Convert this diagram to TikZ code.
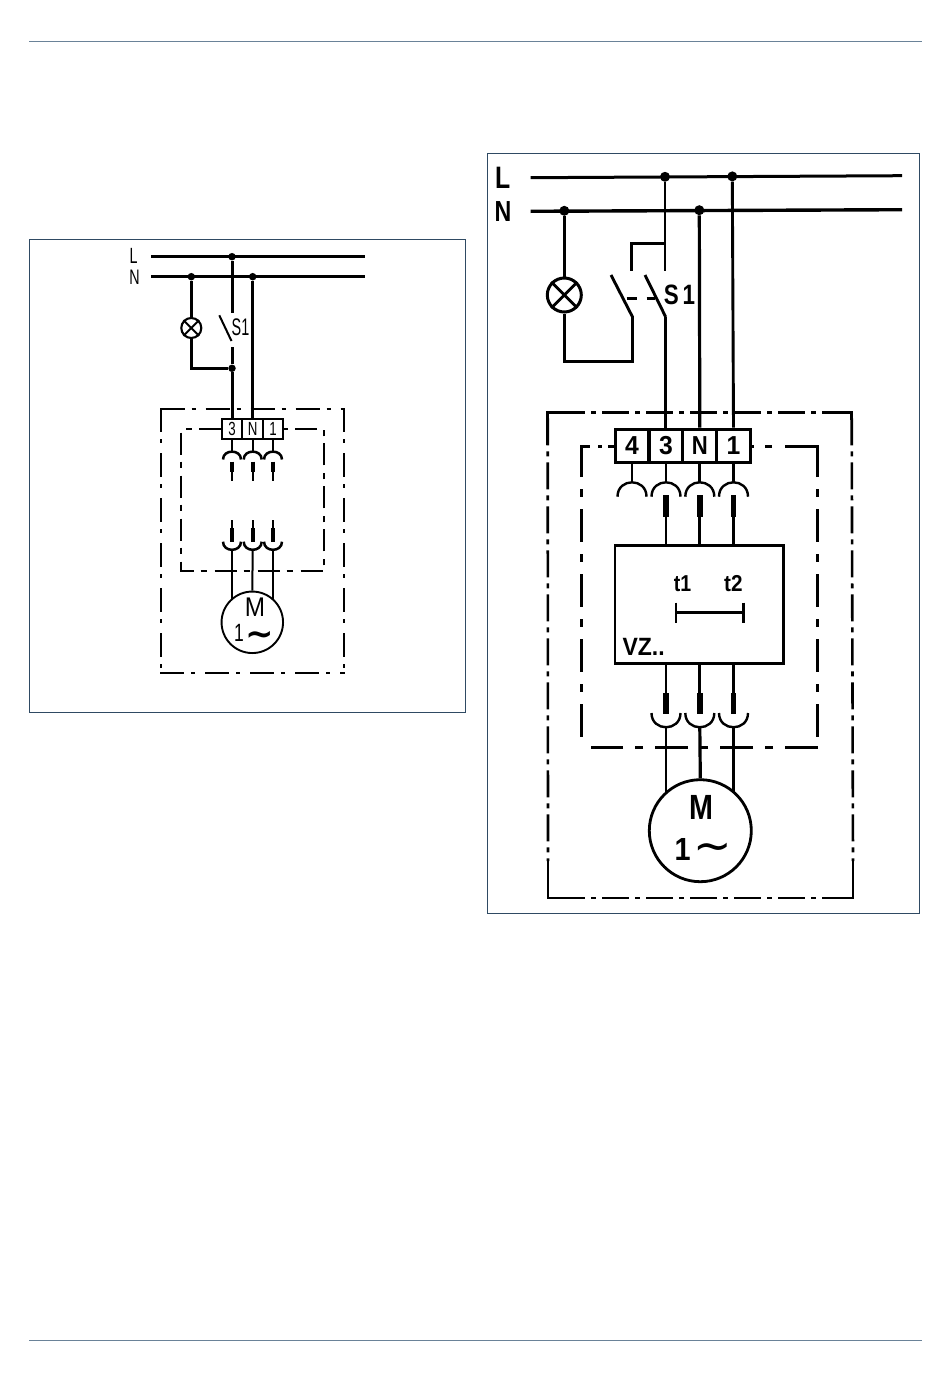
\documentclass[tikz,border=0pt]{standalone}
\usepackage{fontspec}
\setmainfont{Liberation Sans}
\newfontfamily\symfont{DejaVu Sans}
\newcommand{\lbltxt}[3]{\scalebox{#2}[1]{\fontsize{#1}{#1}\selectfont #3}}
\definecolor{rule}{HTML}{6A8298}
\definecolor{framec}{HTML}{2F4A63}
\tikzset{
  lbl/.style={inner sep=0pt,outer sep=0pt,text=black},
  bus/.style={line width=3pt},
  wire/.style={line width=3pt},
  wirer/.style={line width=2.9pt},
  thin wire/.style={line width=2pt},
  pinbar/.style={line width=3.8pt},
  pinbarr/.style={line width=5.4pt},
  junction/.style={circle,fill=black,inner sep=0pt,minimum size=7.5pt},
  junctionr/.style={circle,fill=black,inner sep=0pt,minimum size=10pt},
  cellL/.style={draw,line width=1.9pt,inner sep=0pt,minimum width=20.6pt,minimum height=20.3pt},
  cellR/.style={draw,line width=2.9pt,inner sep=0pt,minimum width=33.8pt,minimum height=33.3pt},
  dashL/.style={line width=1.9pt,dash pattern=on 24pt off 7pt on 4pt off 10pt},
  dashI/.style={line width=1.9pt,dash pattern=on 22pt off 7pt on 6pt off 8pt},
  dashR/.style={line width=2.6pt,dash pattern=on 27pt off 6pt on 5pt off 6pt},
  dashQ/.style={line width=3pt,dash pattern=on 33pt off 12pt on 8pt off 12pt},
}
\begin{document}
\begin{tikzpicture}[x=1pt,y=-1pt]
\useasboundingbox (0,0) rectangle (950,1383);
\fill[white] (0,0) rectangle (950,1383);
% page rules and frames
\draw[rule,line width=1pt] (29,42) -- (922,42);
\draw[rule,line width=1pt] (29,1340) -- (922,1340);
\draw[framec,line width=.9pt] (29.5,239.5) rectangle (465,712.5);
\draw[framec,line width=.9pt] (487,153.5) rectangle (919.5,913.5);

%%%%%%%% LEFT DIAGRAM
\node[lbl] (lL) at (133.5,256) {\lbltxt{22}{.65}{L}};
\node[lbl] (lN) at (134.5,277) {\lbltxt{21}{.68}{N}};
\coordinate (Ls) at (151,256.7); \coordinate (Le) at (365,256.7);
\coordinate (Ns) at (151,276.7); \coordinate (Ne) at (365,276.7);
\draw[bus] (Ls) -- (Le);
\draw[bus] (Ns) -- (Ne);
\node[junction] (jL) at (232,256.7) {};
\node[junction] (jN1) at (191.3,276.7) {};
\node[junction] (jN2) at (252.7,276.7) {};
\node[draw,circle,line width=2.1pt,minimum size=20pt,inner sep=0pt] (lamp) at (191.3,328) {};
\draw[line width=1.9pt] (lamp.45) -- (lamp.225) (lamp.135) -- (lamp.315);
\coordinate (swT) at (232,313);
\coordinate (swB) at (232,347);
\coordinate (bladeA) at (219.3,315.3);
\coordinate (bladeB) at (231.5,341);
\node[junction] (jS) at (232,368.3) {};
\node[lbl] (S1a) at (240.5,327.5) {\lbltxt{24}{.6}{S1}};
\node[cellL] (a3) at (232,429.2) {\lbltxt{19}{.7}{3}};
\node[cellL] (aN) at (252.7,429.2) {\lbltxt{19}{.7}{N}};
\node[cellL] (a1) at (273,429.2) {\lbltxt{19}{.7}{1}};
\draw[wire] (jL) -- (swT);
\draw[line width=2pt] (bladeA) -- (bladeB);
\draw[wire] (swB) -- (jS);
\draw[wire] (jS) -- (a3.north);
\draw[wire] (jN2) -- (aN.north);
\draw[wire] (jN1) -- (lamp.north);
\draw[wire] (lamp.south) |- (jS);
% enclosures
\draw[dashL] (160.7,409) -- (344,409);
\draw[dashL] (160.7,408.2) -- (160.7,672.7);
\draw[dashL] (344,408.2) -- (344,672.7);
\draw[dashL] (160,672.7) -- (344.8,672.7);
\draw[dashI] (a3.west |- 0,429.3) -- (181,429.3) -- (181,571) -- (324,571) -- (324,429.3) -- (a1.east |- 0,429.3);
% connector pieces
\foreach \n/\x in {a3/232,aN/252.7,a1/273}{
  \draw[thin wire] (\n.south) -- (\x,451.7);
  \draw[line width=2.5pt] (\x-9,459.5) .. controls (\x-9,449) and (\x+9,449) .. (\x+9,459.5);
  \draw[pinbar] (\x,461.7) -- (\x,471.7);
  \draw[thin wire] (\x,471.7) -- (\x,480.7);
  \draw[thin wire] (\x,520) -- (\x,528);
  \draw[pinbar] (\x,528) -- (\x,541.7);
  \draw[line width=2.5pt] (\x-9,541.7) .. controls (\x-9,552.5) and (\x+9,552.5) .. (\x+9,541.7);
}
\node[draw,circle,line width=1.9pt,minimum size=61.5pt,inner sep=0pt] (mot) at (252.3,622.3) {};
\draw[thin wire] (232,549.8) -- (232,599);
\draw[thin wire] (252.7,549.8) -- (mot.north);
\draw[thin wire] (273,549.8) -- (273,599);
\node[lbl] (Ma) at (255,607.5) {\lbltxt{27}{.9}{M}};
\node[lbl] (oa) at (239,632.5) {\lbltxt{25}{.7}{1}};
\node[lbl] (ta) at (259.5,638) {\fontsize{34}{34}\selectfont\symfont\bfseries ∼};

%%%%%%%% RIGHT DIAGRAM
\node[lbl] (rL) at (502.7,178) {\bfseries\lbltxt{31}{.8}{L}};
\node[lbl] (rN) at (503,211.5) {\bfseries\lbltxt{29}{.8}{N}};
\coordinate (RLs) at (530.7,177.7); \coordinate (RLe) at (902,175.7);
\coordinate (RNs) at (530.7,211.3); \coordinate (RNe) at (902,209.7);
\draw[bus] (RLs) -- (RLe);
\draw[line width=3.4pt] (RNs) -- (RNe);
\node[junctionr] (rj1) at (665,176.8) {};
\node[junctionr] (rj2) at (732.3,176.4) {};
\node[junctionr] (rj3) at (564.3,210.8) {};
\node[junctionr] (rj4) at (699.3,210.2) {};
\node[draw,circle,line width=3pt,minimum size=34pt,inner sep=0pt] (rlamp) at (564.3,295) {};
\draw[line width=2.8pt] (rlamp.45) -- (rlamp.225) (rlamp.135) -- (rlamp.315);
\node[cellR] (r4) at (632,445.7) {\bfseries\lbltxt{26}{.95}{4}};
\node[cellR] (r3) at (666,445.7) {\bfseries\lbltxt{26}{.95}{3}};
\node[cellR] (rN1) at (699.8,445.7) {\bfseries\lbltxt{26}{.85}{N}};
\node[cellR] (r1) at (733.5,445.7) {\bfseries\lbltxt{26}{.95}{1}};
\coordinate (t2) at (665,270.7);
\coordinate (b2) at (665.7,317);
\coordinate (t1) at (631.7,270.7);
\coordinate (b1) at (632.7,317.3);
\coordinate (tee) at (665,243.3);
\coordinate (lampc) at (632.7,361.7);
\draw[wirer] (rj1) -- (t2);
\draw[wirer] (tee) -- (631.7,243.3) -- (t1);
\draw[wirer] (611,275) -- (b1);
\draw[wirer] (645,275) -- (b2);
\draw[wirer] (b2) -- (b2 |- r3.north);
\draw[line width=3.2pt] (rj4) -- (rN1.north);
\draw[wirer] (rj2) -- (r1.north);
\draw[wirer] (rj3) -- (rlamp.north);
\draw[wirer] (rlamp.south) |- (lampc) -- (b1);
\draw[wirer] (626.7,298.3) -- (637,298.3) (646.7,298.3) -- (655,298.3);
\node[lbl] (S1b) at (679.5,295) {\bfseries\lbltxt{28}{.8}{S\,1}};
% enclosure, outer
\draw[dashR] (558,412.3) -- (851.7,412.3);
\draw[dashR] (851.7,418.3) -- (853,861);
\draw[dashR] (558,898) -- (853,898);
\draw[dashR] (547.7,418.3) -- (548,861);
\draw[line width=2.6pt,line cap=butt] (547.7,445) -- (547.7,412.3) -- (585,412.3);
\draw[line width=2.6pt] (822,412.3) -- (851.7,412.3) -- (851.7,420);
\draw[line width=2.6pt] (548,861) -- (548,898) -- (585,898);
\draw[line width=2.6pt] (822,898) -- (853,898) -- (853,861);
% enclosure, inner
\draw[dashQ] (817.7,736.7) -- (817.7,488.7);
\draw[line width=3pt] (817.7,477) -- (817.7,446.7) -- (785,446.7);
\draw[line width=3pt] (772,446.7) -- (765,446.7) (r1.east |- 0,446.7) -- (754,446.7);
\draw[dashQ] (581,736.7) -- (581,488.7);
\draw[line width=3pt] (581,477) -- (581,446.7) -- (590,446.7);
\draw[line width=3pt] (598,446.7) -- (602,446.7) (608,446.7) -- (r4.west |- 0,446.7);
\draw[dashQ] (818,747.3) -- (590.7,747.3);
% timer box
\node[draw,line width=2.8pt,inner sep=0pt,minimum width=168.3pt,minimum height=117.6pt] (box) at (699.2,604.5) {};
\node[lbl] (lt1) at (682.5,584) {\bfseries\lbltxt{23}{.85}{t1}};
\node[lbl] (lt2) at (733.3,584) {\bfseries\lbltxt{23}{.9}{t2}};
\coordinate (mA) at (676,612.7); \coordinate (mB) at (743.3,612.7);
\draw[line width=2.6pt] (mA) -- (mB);
\draw[line width=2.8pt] (676,602.7) -- (676,623.3) (743.3,602.7) -- (743.3,623.3);
\node[lbl,anchor=west] (lvz) at (622.5,647) {\bfseries\lbltxt{25}{.92}{VZ..}};
\draw[wirer] (r4.south) -- (632,482.3);
\draw[line width=2.4pt] (632-14.5,496.7) .. controls (632-14.5,477.5) and (632+14.5,477.5) .. (632+14.5,496.7);
\foreach \n/\x in {r3/666,rN1/699.8,r1/733.5}{
  \draw[wirer] (\n.south) -- (\x,482.3);
  \draw[line width=2.4pt] (\x-14.5,496.7) .. controls (\x-14.5,477.5) and (\x+14.5,477.5) .. (\x+14.5,496.7);
  \draw[pinbarr] (\x,495) -- (\x,516.7);
  \draw[wirer] (\x,516.7) -- (\x,0 |- box.north);
  \draw[wirer] (\x,0 |- box.south) -- (\x,693.3);
  \draw[pinbarr] (\x,693.3) -- (\x,714.3);
  \draw[line width=2.4pt] (\x-14.5,713) .. controls (\x-14.5,732) and (\x+14.5,732) .. (\x+14.5,713);
}
\node[draw,circle,line width=2.8pt,minimum size=102pt,inner sep=0pt] (rmot) at (700.3,830.7) {};
\draw[wirer] (666,727.3) -- (666,791.7);
\draw[line width=3.2pt] (699.8,727.3) -- (rmot.north);
\draw[wirer] (733.5,727.3) -- (733.5,791.7);
\node[lbl] (rM) at (701,807.3) {\bfseries\lbltxt{35}{.82}{M}};
\node[lbl] (rone) at (682.7,849) {\bfseries\lbltxt{32}{.9}{1}};
\node[lbl] (rt) at (713,852) {\fontsize{46}{46}\selectfont\symfont ∼};
\end{tikzpicture}
\end{document}
